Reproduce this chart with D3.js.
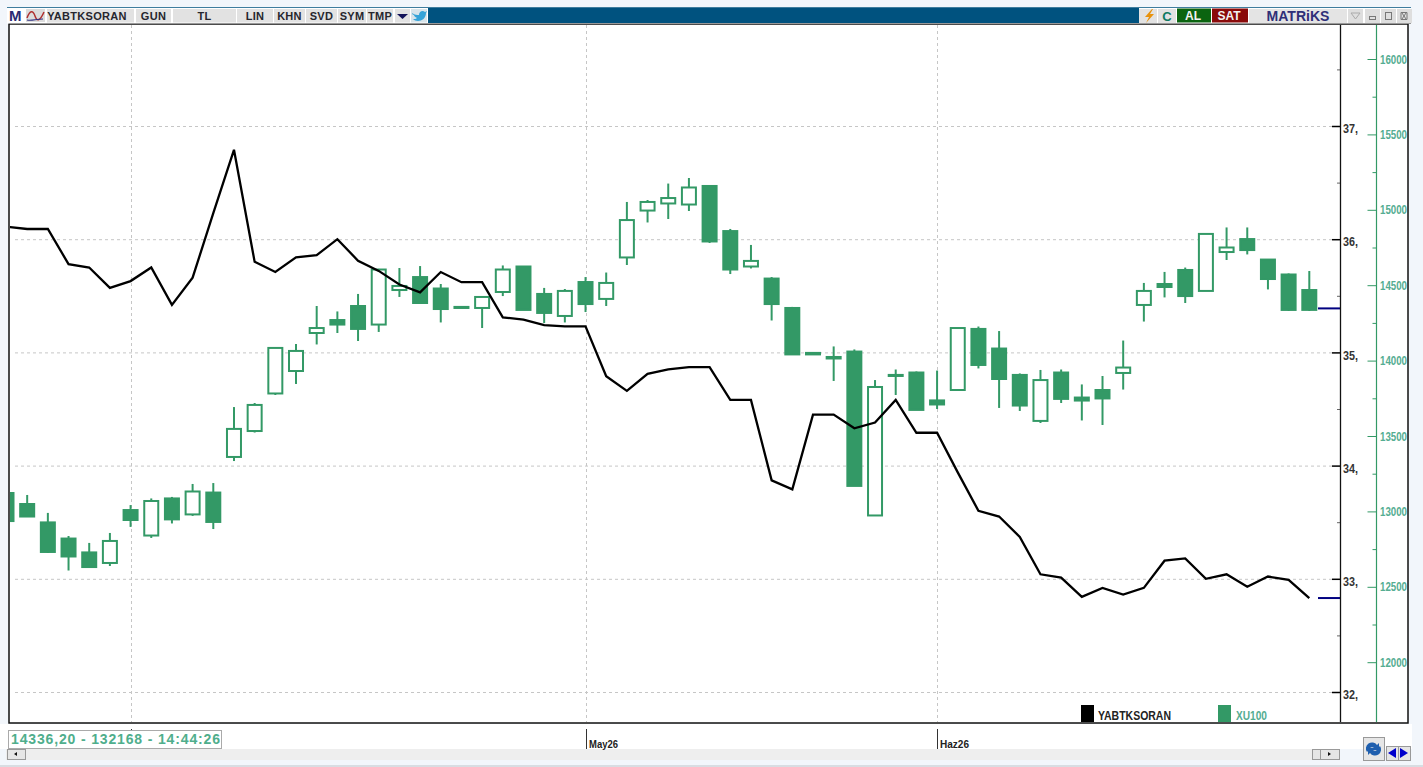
<!DOCTYPE html>
<html>
<head>
<meta charset="utf-8">
<title>YABTKSORAN / XU100</title>
<script src="https://cdn.jsdelivr.net/npm/d3@7/dist/d3.min.js"></script>
<style>
html, body { margin: 0; padding: 0; background: #f2f6fb; overflow: hidden; }
text { font-family: "Liberation Sans", Arial, sans-serif; }
.domain { display: none; }
</style>
</head>
<body>
<div id="chart"></div>
<script>
// XU100 candles
var xuOpen = [13122,13049,12927,12820,12728,12658,13009,12840,13086,12980,13125,13361,13533,13782,13931,14183,14269,14362,14239,14468,14554,14478,14356,14349,14455,14624,14442,14296,14521,14409,14684,14995,15042,15035,15158,14859,14624,14544,14349,14051,14024,14060,12973,13905,13921,13736,13805,14210,14080,13905,13600,13921,13755,13805,13918,14369,14508,14601,14462,14720,14806,14670,14571,14468];
var xuHigh = [13122,13109,12990,12837,12791,12857,13042,13086,13096,13182,13188,13692,13719,14084,14110,14362,14326,14442,14608,14614,14627,14508,14356,14422,14631,14624,14482,14475,14554,14584,15052,15065,15174,15211,15158,14873,14767,14554,14356,14051,14094,14074,13871,13941,13928,13934,14216,14226,14196,13915,13938,13941,13842,13898,14133,14515,14588,14617,14840,14883,14883,14670,14578,14594];
var xuLow = [12936,12963,12724,12608,12625,12638,12897,12824,12920,12970,12883,13334,13523,13772,13845,14107,14183,14130,14190,14422,14382,14253,14349,14216,14428,14336,14249,14253,14322,14362,14634,14916,14939,14992,14780,14574,14611,14266,14041,14041,13865,13169,12973,13772,13673,13679,13805,13948,13686,13666,13586,13719,13603,13573,13808,14259,14419,14382,14462,14667,14704,14472,14329,14329];
var xuClose = [12936,12966,12731,12701,12631,12804,12943,13069,12947,13132,12930,13547,13706,14084,14064,14216,14239,14210,14604,14495,14382,14342,14349,14422,14604,14336,14316,14462,14375,14515,14932,15052,15078,15148,14790,14604,14661,14375,14041,14041,14014,13169,13825,13898,13673,13709,14216,13971,13878,13702,13871,13746,13735,13749,13954,14462,14488,14428,14840,14750,14733,14541,14336,14336.2];

// YABTKSORAN line
var yabtk = [36.11,36.09,36.09,35.78,35.75,35.57,35.63,35.75,35.42,35.66,36.23,36.79,35.80,35.71,35.84,35.86,36.00,35.81,35.72,35.60,35.53,35.71,35.62,35.62,35.31,35.29,35.24,35.23,35.23,34.79,34.66,34.81,34.85,34.87,34.87,34.58,34.58,33.87,33.79,34.45,34.45,34.33,34.38,34.58,34.29,34.29,33.94,33.60,33.55,33.37,33.04,33.01,32.84,32.92,32.86,32.92,33.16,33.18,33.00,33.04,32.93,33.02,32.99,32.83];

var leftTicks = [37, 36, 35, 34, 33, 32];
var leftMinor = [37.5, 36.5, 35.5, 34.5, 33.5, 32.5];
var rightTicks = [16000, 15500, 15000, 14500, 14000, 13500, 13000, 12500, 12000];
var rightMinor = [15750, 15250, 14750, 14250, 13750, 13250, 12750, 12250];
var monthIndex = [6, 28, 45];
var monthLabels = ["", "May26", "Haz26"];

var toolButtons = ["YABTKSORAN", "GUN", "TL", "LIN", "KHN", "SVD", "SYM", "TMP"];
var toolLeft = [47, 136, 173, 237, 274, 306, 338, 367];
var toolRight = [134, 171, 236, 273, 305, 337, 366, 393];

var green = "#339966";
var labelGreen = "#55ad92";

var width = 1423, height = 767;
var svg = d3.select("#chart").append("svg")
    .attr("width", width)
    .attr("height", height)
    .style("display", "block");

var x = d3.scaleLinear().domain([0, 63]).range([6.5, 1309.3]);
var yLeft = d3.scaleLinear().domain([37, 32]).range([126, 692]);
var yRight = d3.scaleLinear().domain([16000, 12000]).range([59, 662.2]);

/////////// plot frame ///////////
svg.append("rect").attr("x", 9).attr("y", 24).attr("width", 1399).attr("height", 699)
    .attr("fill", "#fff").attr("stroke", "#111").attr("stroke-width", 1.5);
svg.append("clipPath").attr("id", "plot_clip").append("rect")
    .attr("x", 10).attr("y", 25).attr("width", 1330).attr("height", 697);

// grid
var grid = svg.append("g").attr("stroke", "#c6c6c6").attr("stroke-dasharray", "3 3");
grid.selectAll("line.h").data(leftTicks).join("line").attr("class", "h")
    .attr("x1", 15).attr("x2", 1332)
    .attr("y1", function (d) { return yLeft(d) + 0.5 })
    .attr("y2", function (d) { return yLeft(d) + 0.5 });
grid.selectAll("line.v").data(monthIndex).join("line").attr("class", "v")
    .attr("x1", function (d) { return Math.round(x(d)) + 0.5 })
    .attr("x2", function (d) { return Math.round(x(d)) + 0.5 })
    .attr("y1", 25).attr("y2", 722);

/////////// candles ///////////
var marks = svg.append("g").attr("clip-path", "url(#plot_clip)")
    .append("g").style("filter", "blur(0.35px)");

var candles = marks.selectAll("g.candle").data(xuOpen).join("g").attr("class", "candle");
candles.append("line")
    .attr("x1", function (d, i) { return x(i) })
    .attr("x2", function (d, i) { return x(i) })
    .attr("y1", function (d, i) { return yRight(xuHigh[i]) })
    .attr("y2", function (d, i) { return yRight(xuLow[i]) })
    .attr("stroke", green).attr("stroke-width", 2);
candles.append("rect")
    .attr("x", function (d, i) { return x(i) - 7 })
    .attr("width", 14)
    .attr("y", function (d, i) { return yRight(Math.max(d, xuClose[i])) })
    .attr("height", function (d, i) { return Math.abs(yRight(d) - yRight(xuClose[i])) })
    .attr("fill", function (d, i) { return xuClose[i] > d ? "#fff" : green })
    .attr("stroke", green).attr("stroke-width", 2);

// line goes over the candles
var line = d3.line()
    .x(function (d, i) { return x(i) })
    .y(function (d) { return yLeft(d) });
marks.append("path").datum(yabtk)
    .attr("d", line)
    .attr("fill", "none")
    .attr("stroke", "#000")
    .attr("stroke-width", 2.3);

// last value markers
var lastMarks = [yRight(xuClose[63]) - 1.5, yLeft(yabtk[63])];
svg.selectAll("line.last").data(lastMarks).join("line").attr("class", "last")
    .attr("x1", 1318).attr("x2", 1340)
    .attr("y1", function (d) { return d }).attr("y2", function (d) { return d })
    .attr("stroke", "#000080").attr("stroke-width", 2);

/////////// axes ///////////
var axisLeftG = svg.append("g").attr("transform", "translate(1340,0)")
    .call(d3.axisRight(yLeft).tickValues(leftTicks).tickSize(0).tickPadding(3)
        .tickFormat(function (d) { return d + "," }));
axisLeftG.selectAll("line").attr("x2", -8).attr("stroke", "#000").attr("stroke-width", 1.5);
axisLeftG.selectAll("text")
    .attr("dy", "0.55em")
    .attr("fill", "#333").attr("font-size", 12).attr("font-weight", "bold")
    .attr("textLength", 15).attr("lengthAdjust", "spacingAndGlyphs");
axisLeftG.style("font-family", null);

var axisLeftMinor = svg.append("g").attr("transform", "translate(1340,0)")
    .call(d3.axisLeft(yLeft).tickValues(leftMinor).tickSize(3).tickFormat(""));
axisLeftMinor.selectAll("line").attr("stroke", "#666");

svg.append("line").attr("x1", 1340.5).attr("x2", 1340.5).attr("y1", 25).attr("y2", 722)
    .attr("stroke", "#111").attr("stroke-width", 1.3);

var axisRightG = svg.append("g").attr("transform", "translate(1376.5,0)")
    .call(d3.axisLeft(yRight).tickValues(rightTicks).tickSize(9).tickFormat(""));
axisRightG.selectAll("line").attr("stroke", green);

var axisRightMinor = svg.append("g").attr("transform", "translate(1376.5,0)")
    .call(d3.axisLeft(yRight).tickValues(rightMinor).tickSize(4).tickFormat(""));
axisRightMinor.selectAll("line").attr("stroke", green);

svg.append("line").attr("x1", 1376.5).attr("x2", 1376.5).attr("y1", 25).attr("y2", 722)
    .attr("stroke", green).attr("stroke-width", 1.2);

svg.append("g").selectAll("text").data(rightTicks).join("text")
    .attr("x", 1380)
    .attr("y", function (d) { return yRight(d) + 4.5 })
    .text(function (d) { return d })
    .attr("fill", labelGreen).attr("font-size", 12).attr("font-weight", "bold")
    .attr("textLength", 27).attr("lengthAdjust", "spacingAndGlyphs");

/////////// legend ///////////
svg.append("rect").attr("x", 1081).attr("y", 705).attr("width", 13).attr("height", 17).attr("fill", "#000");
svg.append("text").attr("x", 1098).attr("y", 720).text("YABTKSORAN")
    .attr("fill", "#222").attr("font-size", 12).attr("font-weight", "bold")
    .attr("textLength", 73).attr("lengthAdjust", "spacingAndGlyphs");
svg.append("rect").attr("x", 1218).attr("y", 705).attr("width", 13).attr("height", 17).attr("fill", green);
svg.append("text").attr("x", 1236).attr("y", 720).text("XU100")
    .attr("fill", labelGreen).attr("font-size", 12).attr("font-weight", "bold")
    .attr("textLength", 31).attr("lengthAdjust", "spacingAndGlyphs");

/////////// bottom strip ///////////
svg.append("rect").attr("x", 0).attr("y", 724).attr("width", 1412).attr("height", 25).attr("fill", "#fff");
svg.append("rect").attr("x", 6).attr("y", 749).attr("width", 1333).attr("height", 11).attr("fill", "#eeeeee");
svg.append("rect").attr("x", 0).attr("y", 765).attr("width", width).attr("height", 2).attr("fill", "#d8dde2");

var dateTicks = svg.append("g").selectAll("g").data(monthIndex).join("g")
    .attr("transform", function (d) { return "translate(" + Math.round(x(d)) + ",0)" });
dateTicks.append("line").attr("x1", 0.5).attr("x2", 0.5).attr("y1", 729).attr("y2", 749)
    .attr("stroke", "#333");
dateTicks.append("text").attr("x", 3).attr("y", 748)
    .text(function (d, i) { return monthLabels[i] })
    .attr("fill", "#222").attr("font-size", 11).attr("font-weight", "bold")
    .attr("textLength", 29).attr("lengthAdjust", "spacingAndGlyphs");

// status box
svg.append("rect").attr("x", 8.5).attr("y", 730.5).attr("width", 213).attr("height", 18)
    .attr("fill", "#fff").attr("stroke", "#aaa");
svg.append("text").attr("x", 11).attr("y", 744).text("14336,20 - 132168 - 14:44:26")
    .attr("fill", "#4fae8c").attr("font-size", 14).attr("font-weight", "bold")
    .attr("textLength", 209).attr("lengthAdjust", "spacing");

// scroll buttons
function smallButton(bx, by, bw, bh) {
    svg.append("rect").attr("x", bx + 0.5).attr("y", by + 0.5).attr("width", bw).attr("height", bh)
        .attr("fill", "#e6e6e6").attr("stroke", "#999");
}
smallButton(7, 749, 18, 10);
smallButton(1312, 749, 8, 10);
smallButton(1320, 749, 19, 10);
svg.append("path").attr("d", "M14 754l3 -2v4z").attr("fill", "#111");
svg.append("path").attr("d", "M1331 754l-3 -2v4z").attr("fill", "#111");
smallButton(1363, 737, 21, 23);
smallButton(1386, 746, 12, 14);
smallButton(1398, 746, 12, 14);
svg.append("path").attr("d", "M1396 748v10l-8 -5z").attr("fill", "#0000cc");
svg.append("path").attr("d", "M1400 748v10l8 -5z").attr("fill", "#0000cc");
svg.append("path").attr("d", "M1367 752a6 6 0 0 1 10 -7l2 -2v7h-7l2 -2a3 3 0 0 0 -5 2z").attr("fill", "#1f5fae");
svg.append("path").attr("d", "M1380 746a6 6 0 0 1 -10 7l-2 2v-7h7l-2 2a3 3 0 0 0 5 -2z").attr("fill", "#1f5fae");

/////////// toolbar ///////////
svg.append("rect").attr("x", 7).attr("y", 7).attr("width", 1404).attr("height", 1.5).attr("fill", "#3f7d9e");
svg.append("rect").attr("x", 7).attr("y", 8).attr("width", 1404).attr("height", 15.5).attr("fill", "#fff");
svg.append("rect").attr("x", 428).attr("y", 8).attr("width", 711).attr("height", 15).attr("fill", "#00527f");
svg.append("rect").attr("x", 9).attr("y", 23).attr("width", 1402).attr("height", 1).attr("fill", "#999");

svg.append("text").attr("x", 9).attr("y", 21).text("M")
    .attr("fill", "#2a2a72").attr("font-size", 15).attr("font-weight", "bold");
svg.append("rect").attr("x", 26).attr("y", 9).attr("width", 19).attr("height", 13).attr("fill", "#dcdcdc");
svg.append("path").attr("d", "M27 18c3 -8 6 -8 8 -2s5 5 9 -4").attr("fill", "none").attr("stroke", "#b03030").attr("stroke-width", 1.5);
svg.append("path").attr("d", "M27 20c5 1 9 -1 16 -1").attr("fill", "none").attr("stroke", "#303080").attr("stroke-width", 1.2);

svg.selectAll("rect.tool").data(toolButtons).join("rect").attr("class", "tool")
    .attr("x", function (d, i) { return toolLeft[i] })
    .attr("y", 9)
    .attr("width", function (d, i) { return toolRight[i] - toolLeft[i] })
    .attr("height", 13.5)
    .attr("fill", "#e2e2e2");
svg.selectAll("text.tool").data(toolButtons).join("text").attr("class", "tool")
    .attr("x", function (d, i) { return (toolLeft[i] + (i == 0 ? toolRight[i] - 7 : toolRight[i])) / 2 })
    .attr("y", 20)
    .attr("text-anchor", "middle")
    .text(function (d) { return d })
    .attr("fill", "#26262e").attr("font-size", 11).attr("font-weight", "bold")
    .attr("letter-spacing", 0.3);

svg.append("rect").attr("x", 395).attr("y", 9).attr("width", 15).attr("height", 13.5).attr("fill", "#e2e2e2");
svg.append("path").attr("d", "M397 14h11l-5.5 5z").attr("fill", "#14145a");
svg.append("rect").attr("x", 411).attr("y", 9).attr("width", 16).attr("height", 13.5).attr("fill", "#d8e4ea");
svg.append("path").attr("d", "M412 13c3 2 5 2 7 2c0 -4 4 -5 6 -3l2 -1l-1 2c0 5 -4 8 -8 8c-2 0 -4 -1 -5 -2c2 0 3 0 4 -1c-2 -1 -3 -2 -3 -3c-1 0 -2 -1 -2 -2z")
    .attr("fill", "#35a3d8");

svg.append("rect").attr("x", 1139).attr("y", 9).attr("width", 18).attr("height", 14).attr("fill", "#e2e2e2");
svg.append("path").attr("d", "M1152 9l-7 8h4l-3 6l8 -9h-4l3 -5z").attr("fill", "#e8920c");
svg.append("rect").attr("x", 1158).attr("y", 9).attr("width", 18).attr("height", 14).attr("fill", "#e2e2e2");
svg.append("text").attr("x", 1167).attr("y", 21).attr("text-anchor", "middle").text("C")
    .attr("fill", "#0d7a62").attr("font-size", 13).attr("font-weight", "bold");

svg.append("rect").attr("x", 1177).attr("y", 8.5).attr("width", 34).attr("height", 14).attr("fill", "#0b6410");
svg.append("text").attr("x", 1193).attr("y", 20).attr("text-anchor", "middle").text("AL")
    .attr("fill", "#f2f2f2").attr("font-size", 12).attr("font-weight", "bold");
svg.append("rect").attr("x", 1212).attr("y", 8.5).attr("width", 36).attr("height", 14).attr("fill", "#8a0a0a");
svg.append("text").attr("x", 1229).attr("y", 20).attr("text-anchor", "middle").text("SAT")
    .attr("fill", "#f2f2f2").attr("font-size", 12).attr("font-weight", "bold");
svg.append("rect").attr("x", 1249).attr("y", 9).attr("width", 98).attr("height", 14).attr("fill", "#e4e4e4");
svg.append("text").attr("x", 1298).attr("y", 21).attr("text-anchor", "middle").text("MATRiKS")
    .attr("fill", "#2f2f78").attr("font-size", 14).attr("font-weight", "bold")
    .attr("textLength", 63).attr("lengthAdjust", "spacingAndGlyphs");

// window buttons
[1348, 1365, 1381, 1397].forEach(function (bx) {
    svg.append("rect").attr("x", bx).attr("y", 9).attr("width", 15).attr("height", 14).attr("fill", "#dedede");
});
svg.append("path").attr("d", "M1351 13h9l-4.5 6z").attr("fill", "none").attr("stroke", "#aaa");
svg.append("rect").attr("x", 1369.5).attr("y", 16.5).attr("width", 6).attr("height", 3).attr("fill", "none").attr("stroke", "#777");
svg.append("rect").attr("x", 1385.5).attr("y", 12.5).attr("width", 6).attr("height", 7).attr("fill", "none").attr("stroke", "#777");
svg.append("path").attr("d", "M1401 12.5h6v7h-6zM1402 13l4 6M1406 13l-4 6").attr("fill", "none").attr("stroke", "#777");
</script>
</body>
</html>
